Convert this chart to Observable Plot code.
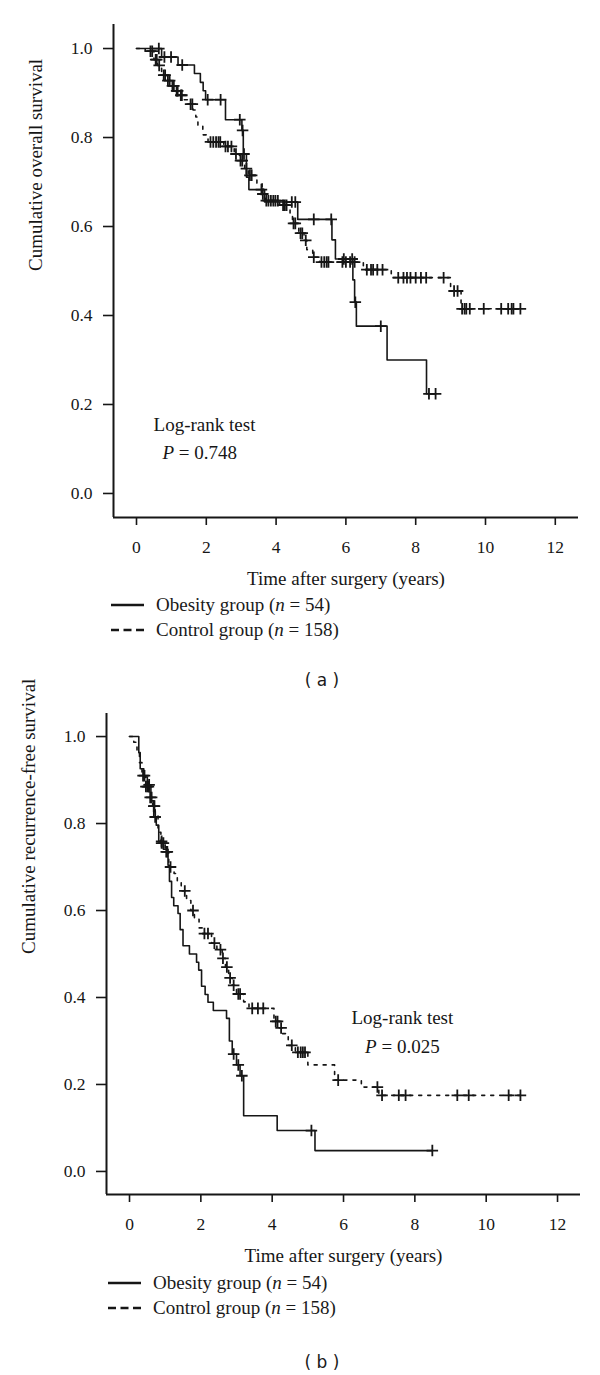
<!DOCTYPE html>
<html><head><meta charset="utf-8">
<script src="https://cdn.jsdelivr.net/npm/d3@7"></script>
<script src="https://cdn.jsdelivr.net/npm/@observablehq/plot@0.6"></script>
<style>
html,body{margin:0;padding:0;background:#fff}
body{width:600px;height:1375px;position:relative;overflow:hidden}
.panel{position:absolute;left:0}
.panel svg text{font-family:"Liberation Serif",serif}
.legend{position:absolute;font-family:"Liberation Serif",serif;font-size:19px;color:#1a1a1a}
.row{position:absolute;left:0;height:24px;display:flex;align-items:center;white-space:nowrap}
.row svg{margin-right:12px}
.caption{position:absolute;left:272px;width:100px;text-align:center;font-family:"DejaVu Sans",sans-serif;font-size:17px;color:#1a1a1a;line-height:20px}
</style></head><body>
<div id="panelA" class="panel" style="top:0"></div>
<div id="legendA" class="legend" style="left:111px;top:593px"></div>
<div class="caption" style="top:670px">( a )</div>
<div id="panelB" class="panel" style="top:690px"></div>
<div id="legendB" class="legend" style="left:108px;top:1271px"></div>
<div class="caption" style="top:1352px">( b )</div>
<script>
// ---------- data ----------
const groupNames = ["Obesity group", "Control group"];
const groupN = [54, 158];
const xTicks = [0, 2, 4, 6, 8, 10, 12];
const yTicks = [0, 0.2, 0.4, 0.6, 0.8, 1.0];

// (a) overall survival
const osObesityTime = [0, 0.72, 1.19, 1.66, 1.83, 1.91, 1.98, 2.55, 3.02, 3.06, 3.15, 3.22, 3.67, 4.62, 5.6, 5.7, 6.2, 6.25, 6.3, 7.18, 8.31];
const osObesitySurv = [1.0, 0.981, 0.963, 0.944, 0.924, 0.905, 0.885, 0.840, 0.816, 0.763, 0.711, 0.683, 0.655, 0.616, 0.57, 0.527, 0.48, 0.43, 0.376, 0.30, 0.224];
const osObesityCensor = [0.64, 0.8, 0.99, 1.31, 2.04, 2.41, 2.96, 3.04, 3.08, 3.58, 4.45, 4.55, 5.08, 5.58, 5.94, 6.18, 6.27, 7.0, 8.38, 8.57];

const osControlTime = [0, 0.25, 0.5, 0.6, 0.72, 0.85, 0.98, 1.1, 1.22, 1.35, 1.5, 1.62, 1.7, 1.76, 1.9, 2.05, 2.5, 2.8, 2.95, 3.1, 3.2, 3.45, 3.6, 3.7, 4.1, 4.4, 4.47, 4.65, 4.8, 4.88, 5.05, 5.25, 6.5, 7.3, 9.0, 9.3];
const osControlSurv = [1.0, 0.994, 0.975, 0.962, 0.94, 0.928, 0.916, 0.905, 0.895, 0.885, 0.875, 0.862, 0.846, 0.826, 0.806, 0.79, 0.78, 0.763, 0.748, 0.73, 0.715, 0.697, 0.673, 0.658, 0.648, 0.625, 0.607, 0.585, 0.569, 0.548, 0.531, 0.52, 0.503, 0.485, 0.455, 0.415];
const osControlCensor = [0.4, 0.45, 0.55, 0.58, 0.65, 0.78, 0.82, 0.9, 0.95, 1.03, 1.07, 1.15, 1.18, 1.27, 1.3, 1.55, 1.6, 2.12, 2.2, 2.28, 2.35, 2.4, 2.55, 2.62, 2.72, 2.85, 2.98, 3.03, 3.15, 3.25, 3.3, 3.62, 3.72, 3.78, 3.85, 3.92, 3.98, 4.05, 4.2, 4.25, 4.3, 4.5, 4.55, 4.7, 4.75, 4.85, 5.08, 5.3, 5.38, 5.45, 5.5, 5.9, 6.0, 6.12, 6.25, 6.6, 6.72, 6.78, 6.9, 7.05, 7.5, 7.65, 7.75, 7.85, 8.0, 8.15, 8.3, 8.8, 9.1, 9.2, 9.33, 9.4, 9.45, 9.55, 9.95, 10.45, 10.65, 10.75, 10.8, 11.0];

// (b) recurrence-free survival
const rfsObesityTime = [0, 0.26, 0.3, 0.4, 0.5, 0.6, 0.68, 0.75, 0.82, 0.95, 1.08, 1.12, 1.18, 1.24, 1.36, 1.42, 1.5, 1.68, 1.88, 1.94, 2.02, 2.12, 2.2, 2.35, 2.72, 2.8, 2.88, 3.0, 3.1, 3.2, 4.14, 5.2];
const rfsObesitySurv = [1.0, 0.963, 0.926, 0.907, 0.889, 0.852, 0.815, 0.796, 0.759, 0.741, 0.704, 0.667, 0.63, 0.611, 0.593, 0.556, 0.519, 0.5, 0.481, 0.463, 0.426, 0.407, 0.389, 0.37, 0.352, 0.30, 0.27, 0.245, 0.22, 0.128, 0.094, 0.048];
const rfsObesityCensor = [0.55, 0.72, 0.9, 2.92, 3.05, 3.15, 5.1, 8.49];

const rfsControlTime = [0, 0.12, 0.21, 0.28, 0.35, 0.45, 0.55, 0.65, 0.72, 0.8, 0.88, 1.0, 1.1, 1.25, 1.34, 1.45, 1.6, 1.72, 1.82, 1.95, 2.05, 2.3, 2.45, 2.6, 2.69, 2.78, 2.88, 3.0, 3.2, 3.35, 4.05, 4.2, 4.28, 4.45, 4.65, 5.0, 5.75, 6.5, 6.99];
const rfsControlSurv = [1.0, 0.987, 0.964, 0.94, 0.91, 0.885, 0.86, 0.84, 0.82, 0.78, 0.755, 0.735, 0.70, 0.685, 0.665, 0.645, 0.623, 0.60, 0.58, 0.56, 0.547, 0.525, 0.51, 0.49, 0.47, 0.445, 0.428, 0.408, 0.39, 0.375, 0.345, 0.33, 0.317, 0.29, 0.274, 0.245, 0.21, 0.194, 0.175];
const rfsControlCensor = [0.38, 0.42, 0.46, 0.5, 0.53, 0.58, 0.62, 0.68, 0.7, 0.9, 0.95, 1.03, 1.06, 1.15, 1.55, 1.78, 2.1, 2.2, 2.38, 2.55, 2.62, 2.73, 2.82, 2.92, 3.05, 3.1, 3.44, 3.6, 3.75, 4.1, 4.15, 4.25, 4.55, 4.72, 4.8, 4.86, 4.92, 5.85, 6.95, 7.08, 7.55, 7.74, 9.19, 9.51, 10.63, 10.96];

const titlesA = {x: "Time after surgery (years)", y: "Cumulative overall survival", test: "Log-rank test", p: "P = 0.748"};
const titlesB = {x: "Time after surgery (years)", y: "Cumulative recurrence-free survival", test: "Log-rank test", p: "P = 0.025"};

// ---------- helpers ----------
function km(times, survs, censors) {
  const pts = times.map((t, i) => ({t, s: survs[i]}));
  pts.push({t: d3.max([...times, ...censors]), s: survs[survs.length - 1]});
  const cens = censors.map(t => ({t, s: survs[Math.max(0, d3.bisectRight(times, t) - 1)]}));
  return {pts, cens};
}

const INK = "#161616";
const SERIF = "'Liberation Serif', serif";

function panel(cfg) {
  const ob = km(cfg.obT, cfg.obS, cfg.obC);
  const co = km(cfg.coT, cfg.coS, cfg.coC);
  const x0 = cfg.xDomain[0], y0 = cfg.yDomain[0];
  const svg = Plot.plot({
    width: 600, height: cfg.height,
    marginTop: cfg.mt, marginBottom: cfg.mb, marginLeft: cfg.ml, marginRight: cfg.mr,
    style: {fontFamily: SERIF, fontSize: "17px", color: INK, background: "white", overflow: "visible"},
    x: {domain: cfg.xDomain, label: null},
    y: {domain: cfg.yDomain, label: null},
    marks: [
      Plot.axisX({ticks: xTicks, tickSize: 8, tickPadding: 15, tickFormat: d => String(d), label: null, strokeWidth: 1.6, fontSize: 17.5, fontFamily: SERIF}),
      Plot.axisY({ticks: yTicks, tickSize: 10, tickPadding: 11, tickFormat: d3.format(".1f"), label: null, strokeWidth: 1.6, fontSize: 17.5, fontFamily: SERIF}),
      Plot.ruleY([y0], {stroke: INK, strokeWidth: 2}),
      Plot.ruleX([x0], {stroke: INK, strokeWidth: 2}),
      Plot.line(co.pts, {x: "t", y: "s", curve: "step-after", stroke: INK, strokeWidth: 1.6, strokeDasharray: "3,6"}),
      Plot.line(ob.pts, {x: "t", y: "s", curve: "step-after", stroke: INK, strokeWidth: 1.6}),
      Plot.dot(co.cens, {x: "t", y: "s", symbol: "plus", r: 3.8, stroke: INK, strokeWidth: 1.8}),
      Plot.dot(ob.cens, {x: "t", y: "s", symbol: "plus", r: 3.8, stroke: INK, strokeWidth: 1.8}),
      Plot.text([cfg.titles.x], {frameAnchor: "bottom", dy: 61, fontSize: 19, lineAnchor: "middle", fill: INK, fontFamily: SERIF}),
      Plot.text([cfg.titles.y], {frameAnchor: "left", dx: -78, rotate: -90, fontSize: 19, lineAnchor: "middle", fill: INK, fontFamily: SERIF}),
      Plot.text([cfg.titles.test], {x: () => cfg.testPos[0], y: () => cfg.testPos[1], textAnchor: cfg.anchor, lineAnchor: "middle", fontSize: 19, fill: INK, fontFamily: SERIF}),
      Plot.text([cfg.titles.p], {x: () => cfg.pPos[0], y: () => cfg.pPos[1], textAnchor: cfg.anchor, lineAnchor: "middle", fontSize: 19, fill: INK, fontFamily: SERIF})
    ]
  });
  // italic P
  svg.querySelectorAll("text").forEach(t => {
    if (t.children.length === 0 && t.textContent.startsWith("P = ")) {
      const rest = t.textContent.slice(1);
      t.textContent = "";
      const a = document.createElementNS("http://www.w3.org/2000/svg", "tspan");
      a.setAttribute("font-style", "italic"); a.textContent = "P";
      const b = document.createElementNS("http://www.w3.org/2000/svg", "tspan");
      b.textContent = rest;
      t.append(a, b);
    }
  });
  return svg;
}

document.getElementById("panelA").append(panel({
  height: 590, mt: 24, mb: 73, ml: 113, mr: 22,
  xDomain: [-0.659, 12.665], yDomain: [-0.054, 1.054],
  obT: osObesityTime, obS: osObesitySurv, obC: osObesityCensor,
  coT: osControlTime, coS: osControlSurv, coC: osControlCensor,
  titles: titlesA, anchor: "start", testPos: [0.49, 0.155], pPos: [0.745, 0.092]
}));
document.getElementById("panelB").append(panel({
  height: 575, mt: 23, mb: 71, ml: 106, mr: 20,
  xDomain: [-0.645, 12.644], yDomain: [-0.053, 1.053],
  obT: rfsObesityTime, obS: rfsObesitySurv, obC: rfsObesityCensor,
  coT: rfsControlTime, coS: rfsControlSurv, coC: rfsControlCensor,
  titles: titlesB, anchor: "middle", testPos: [7.65, 0.352], pPos: [7.65, 0.287]
}));

function legend(el) {
  const dashes = [null, "8,4.5"];
  groupNames.forEach((g, i) => {
    const row = document.createElement("div");
    row.className = "row";
    row.style.top = (i * 25) + "px";
    const sw = d3.create("svg").attr("width", 33).attr("height", 10);
    sw.append("line").attr("x1", 0).attr("x2", 33).attr("y1", 5).attr("y2", 5)
      .attr("stroke", INK).attr("stroke-width", 2.4).attr("stroke-dasharray", dashes[i]);
    row.append(sw.node());
    const span = document.createElement("span");
    span.innerHTML = `${g} (<i>n</i> = ${groupN[i]})`;
    row.append(span);
    el.append(row);
  });
}
legend(document.getElementById("legendA"));
legend(document.getElementById("legendB"));
</script>
</body></html>
